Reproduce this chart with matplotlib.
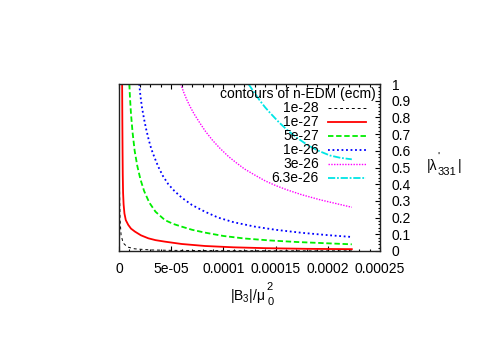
import matplotlib
matplotlib.use("Agg")
import matplotlib.pyplot as plt
from matplotlib.lines import Line2D
from matplotlib.ticker import MultipleLocator

plt.rcParams['font.family'] = ['Liberation Sans', 'DejaVu Sans']
plt.rcParams['mathtext.fontset'] = 'custom'
plt.rcParams['mathtext.rm'] = 'Liberation Sans'
plt.rcParams['mathtext.it'] = 'Liberation Sans'
plt.rcParams['mathtext.sf'] = 'Liberation Sans'

# ---- data ----
legend_title = "contours of n-EDM (ecm)"
labels = ["1e-28", "1e-27", "5e-27", "1e-26", "3e-26", "6.3e-26"]

b_1e28 = [2e-7, 5e-7, 1e-6, 2e-6, 4e-6, 8e-6, 1.5e-5, 3e-5, 5e-5, 1e-4, 1.5e-4, 2.23e-4]
l_1e28 = [0.95, 0.38, 0.19, 0.095, 0.048, 0.024, 0.013, 0.0063, 0.0038, 0.0019, 0.0013, 0.00085]

b_1e27 = [3.0e-6, 3.2e-6, 3.4e-6, 3.6e-6, 3.9e-6, 4.4e-6, 5.2e-6, 6.5e-6, 8.9e-6, 1.15e-5, 1.53e-5,
          2.1e-5, 2.81e-5, 3.5e-5, 4.4e-5, 6.0e-5, 8.24e-5, 1.1e-4, 1.4e-4, 1.8e-4, 2.23e-4]
l_1e27 = [1.0, 0.78, 0.6, 0.46, 0.35, 0.28, 0.225, 0.185, 0.156, 0.134, 0.116,
          0.094, 0.076, 0.065, 0.056, 0.042, 0.030, 0.022, 0.017, 0.013, 0.011]

b_5e27 = [9.9e-6, 1.05e-5, 1.15e-5, 1.3e-5, 1.5e-5, 1.75e-5, 2.05e-5, 2.4e-5, 2.9e-5, 3.5e-5, 4.4e-5,
          5.2e-5, 6.0e-5, 7.0e-5, 8.24e-5, 1.0e-4, 1.2e-4, 1.45e-4, 1.7e-4, 2.0e-4, 2.23e-4]
l_5e27 = [1.0, 0.92, 0.82, 0.71, 0.6, 0.51, 0.43, 0.36, 0.29, 0.235, 0.185,
          0.162, 0.146, 0.127, 0.11, 0.09, 0.075, 0.063, 0.054, 0.046, 0.040]

b_1e26 = [1.94e-5, 2.05e-5, 2.2e-5, 2.4e-5, 2.6e-5, 2.85e-5, 3.1e-5, 3.4e-5, 3.76e-5, 4.2e-5, 4.72e-5,
          5.3e-5, 6.0e-5, 7.0e-5, 8.24e-5, 9.5e-5, 1.1e-4, 1.3e-4, 1.5e-4, 1.75e-4, 2.0e-4, 2.23e-4]
l_1e26 = [1.0, 0.93, 0.86, 0.79, 0.73, 0.665, 0.61, 0.56, 0.505, 0.45, 0.40,
          0.36, 0.32, 0.275, 0.235, 0.2, 0.172, 0.146, 0.127, 0.109, 0.095, 0.084]

b_3e26 = [5.91e-5, 6.2e-5, 6.5e-5, 6.85e-5, 7.2e-5, 7.76e-5, 8.3e-5, 9.0e-5, 9.67e-5, 1.05e-4,
          1.12e-4, 1.2e-4, 1.3e-4, 1.4e-4, 1.5e-4, 1.61e-4, 1.75e-4, 1.93e-4, 2.1e-4, 2.23e-4]
l_3e26 = [1.0, 0.95, 0.905, 0.86, 0.82, 0.765, 0.715, 0.66, 0.615, 0.565,
          0.53, 0.492, 0.455, 0.42, 0.392, 0.366, 0.337, 0.306, 0.281, 0.262]

b_63e26 = [1.24e-4, 1.3e-4, 1.35e-4, 1.4e-4, 1.45e-4, 1.53e-4, 1.61e-4, 1.7e-4, 1.8e-4, 1.9e-4,
           2.02e-4, 2.12e-4, 2.23e-4]
l_63e26 = [1.0, 0.945, 0.9, 0.86, 0.825, 0.772, 0.725, 0.68, 0.637, 0.603,
           0.572, 0.558, 0.549]

xticks = [0, 5e-5, 1e-4, 1.5e-4, 2e-4, 2.5e-4]
xtick_labels = ["0", "5e-05", "0.0001", "0.00015", "0.0002", "0.00025"]
yticks = [0, 0.1, 0.2, 0.3, 0.4, 0.5, 0.6, 0.7, 0.8, 0.9, 1.0]
ytick_labels = ["0", "0.1", "0.2", "0.3", "0.4", "0.5", "0.6", "0.7", "0.8", "0.9", "1"]

# ---- styles ----
series = [
    (b_1e28, l_1e28, dict(color='black', lw=0.7, ls=(0, (3, 3)))),
    (b_1e27, l_1e27, dict(color='#ff0000', lw=1.3, ls='-')),
    (b_5e27, l_5e27, dict(color='#00ee00', lw=1.3, ls=(0, (3, 1.5)))),
    (b_1e26, l_1e26, dict(color='#0000ff', lw=1.3, ls=(0, (1, 1.5)))),
    (b_3e26, l_3e26, dict(color='#ff00ff', lw=1.0, ls=(0, (1, 1)))),
    (b_63e26, l_63e26, dict(color='#00e5e5', lw=1.3, ls=(0, (4, 1, 1, 1)))),
]

fig = plt.figure(figsize=(5, 3.5), dpi=100)
W, H = 500, 350
L, R, T, B = 119, 380, 84, 251
ax = fig.add_axes([L / W, 1 - B / H, (R - L) / W, (B - T) / H])

for bx, ly, st in series:
    ax.plot(bx, ly, **st)

ax.set_xlim(0, 2.5e-4)
ax.set_ylim(0, 1)
ax.set_xticks(xticks, xtick_labels)
ax.xaxis.set_minor_locator(MultipleLocator(1e-5))
ax.set_yticks(yticks, ytick_labels)
ax.yaxis.set_minor_locator(MultipleLocator(0.02))
ax.yaxis.tick_right()
ax.tick_params(axis='x', which='both', direction='in', top=True, bottom=True, labelsize=10, pad=8)
ax.tick_params(axis='y', which='both', direction='in', right=True, left=False, labelsize=10, pad=8.5)
ax.tick_params(which='major', length=3.5, width=0.8)
ax.tick_params(which='minor', length=1.8, width=0.8)
for s in ax.spines.values():
    s.set_linewidth(1.0)
    s.set_color('#222222')

# legend (gnuplot style: label right-justified, sample to the right)
def ax_x(px):
    return (px - L) / (R - L)

def ax_y(py):
    return (B - py) / (B - T)

ax.text(ax_x(376), ax_y(94), legend_title, ha='right', va='center', fontsize=10,
        transform=ax.transAxes)
for i, (lab, (_, _, st)) in enumerate(zip(labels, series)):
    py = 107.5 + 14.1 * i
    ax.text(ax_x(319), ax_y(py), lab, ha='right', va='center', fontsize=10,
            transform=ax.transAxes)
    ax.add_line(Line2D([ax_x(328), ax_x(366)], [ax_y(py), ax_y(py)],
                       transform=ax.transAxes, **st))

# x label: |B3|/mu with stacked ^2 and _0 (gnuplot enhanced style)
def fx(px):
    return px / W

def fy(py):
    return 1 - py / H

fig.text(fx(265.5), fy(300), r'|B$_3$|/μ', ha='right', va='baseline', fontsize=10)
fig.text(fx(266), fy(290), '2', ha='left', va='baseline', fontsize=8)
fig.text(fx(268), fy(305), '0', ha='left', va='baseline', fontsize=8)

# y label: |lambda'_331|
fig.text(fx(427), fy(170), '|λ', ha='left', va='baseline', fontsize=10)
fig.text(fx(437), fy(160), "'", ha='left', va='baseline', fontsize=8)
fig.text(fx(438), fy(175), '331', ha='left', va='baseline', fontsize=8)
fig.text(fx(458), fy(170), '|', ha='left', va='baseline', fontsize=10)

fig.savefig('out.png', dpi=100)
